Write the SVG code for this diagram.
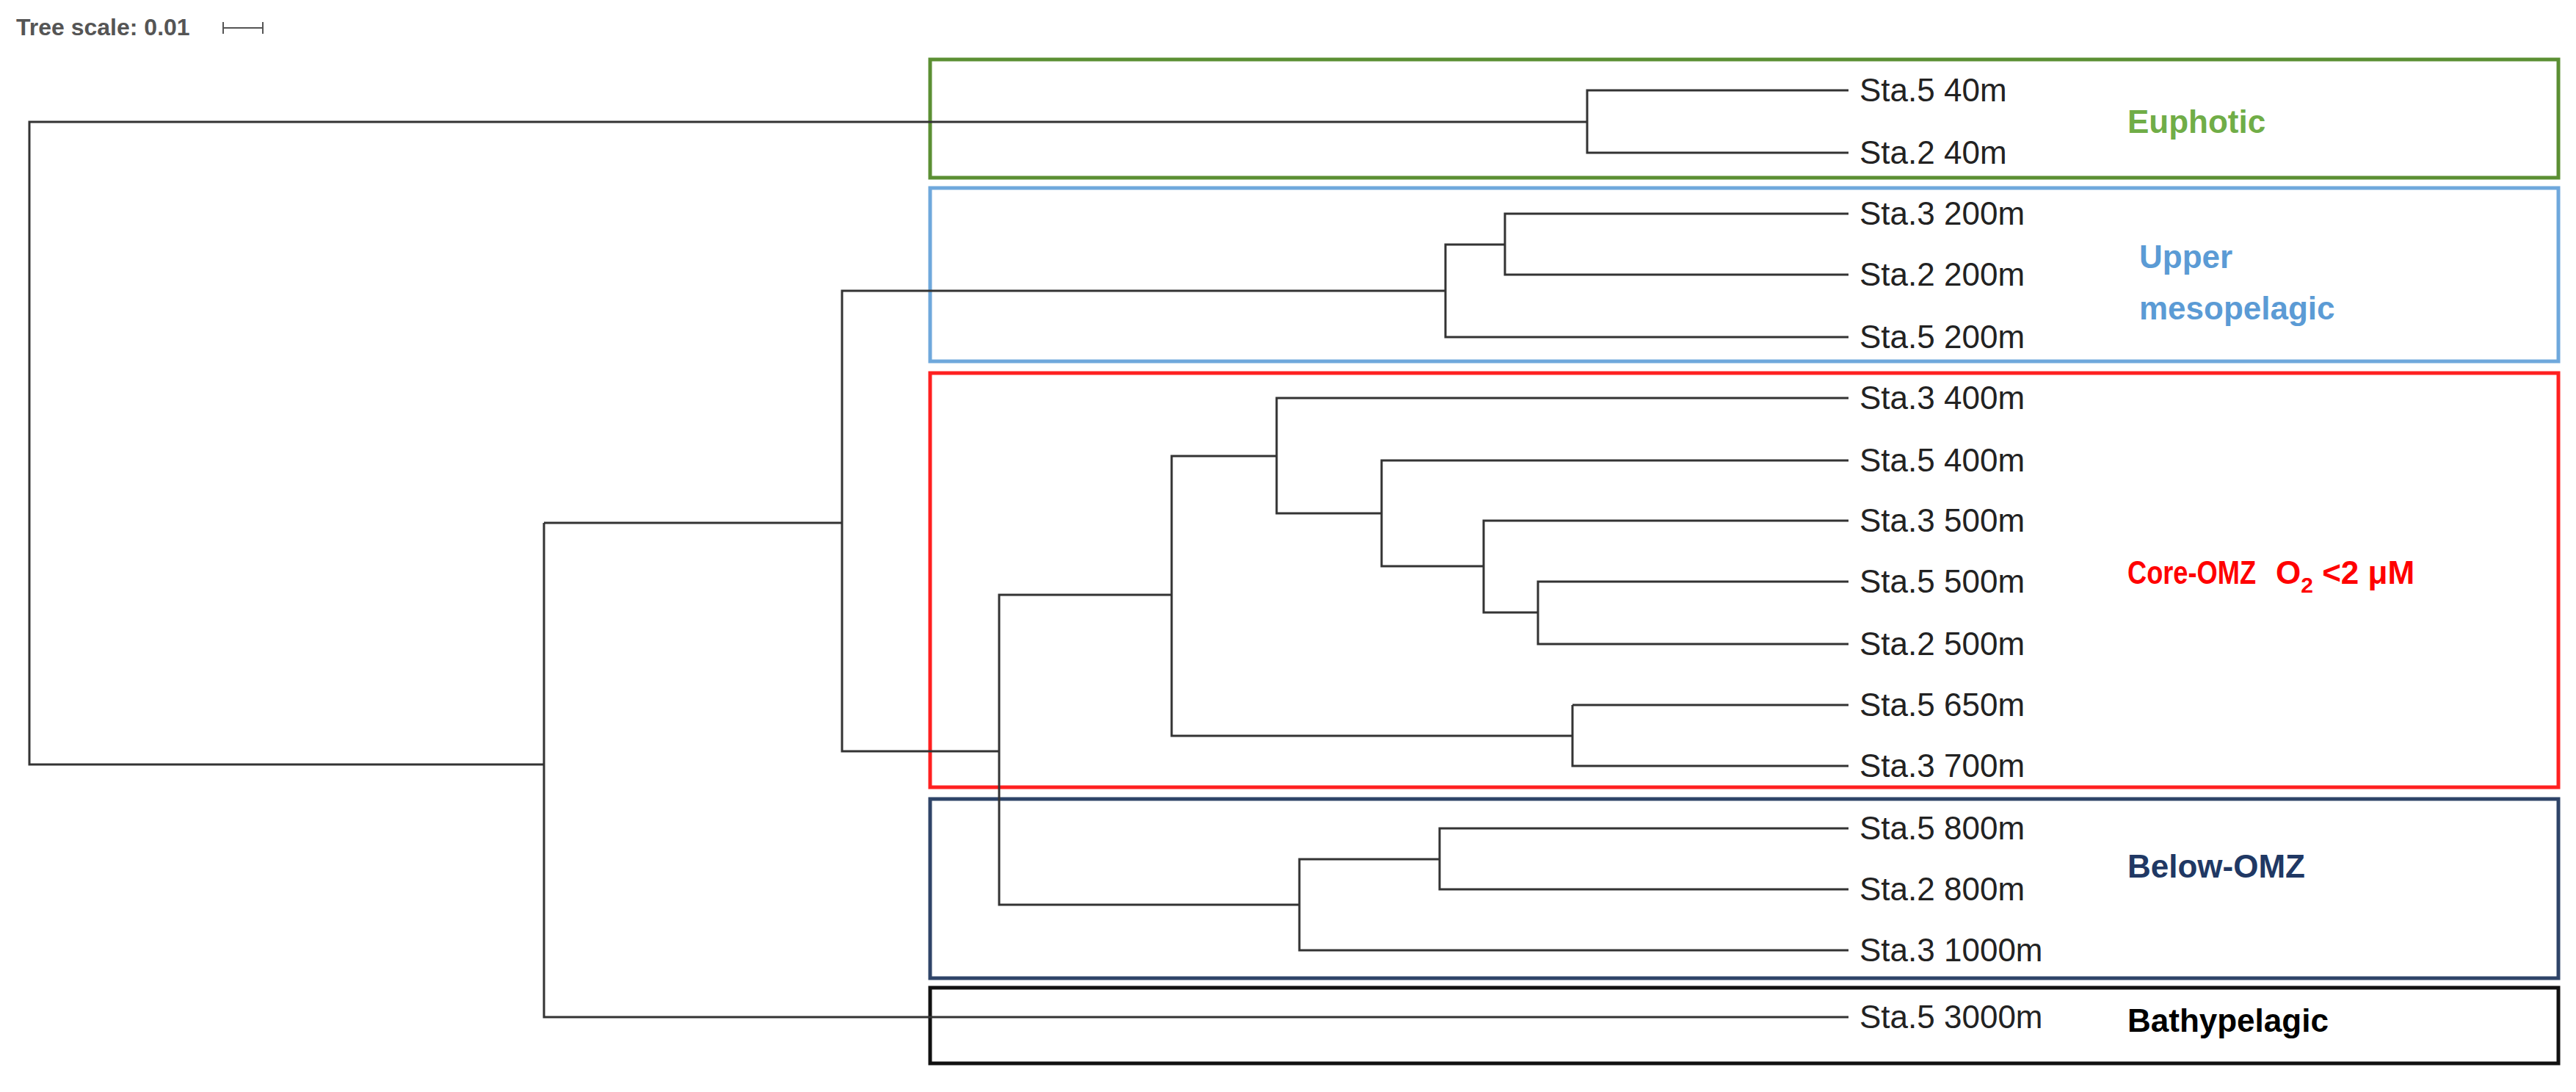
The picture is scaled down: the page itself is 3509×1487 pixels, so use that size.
<svg xmlns="http://www.w3.org/2000/svg" width="3509" height="1487" viewBox="0 0 3509 1487">
<style>
.t{fill:none;stroke:#333;stroke-width:3}
.b{fill:none;stroke-width:5}
.l{font-family:"Liberation Sans",Arial,sans-serif;font-size:44px;fill:#222}
.g{font-family:"Liberation Sans",Arial,sans-serif;font-size:44px;font-weight:bold}
</style>
<rect width="3509" height="1487" fill="#fff"/>
<g id="scale">
<text x="22" y="48" font-family="Liberation Sans,Arial,sans-serif" font-size="32" font-weight="bold" fill="#555">Tree scale: 0.01</text>
<path d="M304 30v16M304 38h54M358 30v16" stroke="#555" stroke-width="2" fill="none"/>
</g>
<g id="boxes">
<rect id="euphotic" class="b" x="1267" y="81" width="2218" height="161" stroke="#5b8f33"/>
<rect id="upper" class="b" x="1267" y="256" width="2218" height="236" stroke="#6fa8dc"/>
<rect id="core" class="b" x="1267" y="508" width="2218" height="564" stroke="#ff2020"/>
<rect id="below" class="b" x="1267" y="1088" width="2218" height="244" stroke="#2f4468"/>
<rect id="bathy" class="b" x="1267" y="1345" width="2218" height="103" stroke="#111"/>
</g>
<g id="connectors" class="t">
<path class="t" d="M2518 123H2162V208H2518M2162 166H40V1041H741"/>
<path class="t" d="M2518 291H2050V374H2518M2050 333H1969V459H2518M1969 396H1147V1023H1361"/>
<path class="t" d="M2518 792H2095V877H2518M2095 834H2021V709H2518M2021 771H1882V627H2518M1882 699H1739V542H2518M1739 621H1596V1002H2142M2142 960H2518M2142 960V1043H2518M1596 810H1361V1232H1770"/>
<path class="t" d="M2518 1128H1961V1211H2518M1961 1170H1770V1294H2518M741 712H1147M741 712V1385H2518"/>
</g>
<g id="leaves" class="l">
<text x="2533" y="138">Sta.5 40m</text>
<text x="2533" y="223">Sta.2 40m</text>
<text x="2533" y="306">Sta.3 200m</text>
<text x="2533" y="389">Sta.2 200m</text>
<text x="2533" y="474">Sta.5 200m</text>
<text x="2533" y="557">Sta.3 400m</text>
<text x="2533" y="642">Sta.5 400m</text>
<text x="2533" y="724">Sta.3 500m</text>
<text x="2533" y="807">Sta.5 500m</text>
<text x="2533" y="892">Sta.2 500m</text>
<text x="2533" y="975">Sta.5 650m</text>
<text x="2533" y="1058">Sta.3 700m</text>
<text x="2533" y="1143">Sta.5 800m</text>
<text x="2533" y="1226">Sta.2 800m</text>
<text x="2533" y="1309">Sta.3 1000m</text>
<text x="2533" y="1400">Sta.5 3000m</text>
</g>
<g id="labels" class="g">
<text x="2898" y="181" fill="#70ad47">Euphotic</text>
<text x="2914" y="365" fill="#5b9bd5">Upper</text>
<text x="2914" y="435" fill="#5b9bd5">mesopelagic</text>
<text x="2898" y="795" fill="#ff0000" textLength="175" lengthAdjust="spacingAndGlyphs">Core-OMZ</text>
<text x="3100" y="795" fill="#ff0000">O<tspan font-size="30" dy="12">2</tspan><tspan dy="-12"> &lt;2 μM</tspan></text>
<text x="2898" y="1195" fill="#203864">Below-OMZ</text>
<text x="2898" y="1405" fill="#000">Bathypelagic</text>
</g>
</svg>
